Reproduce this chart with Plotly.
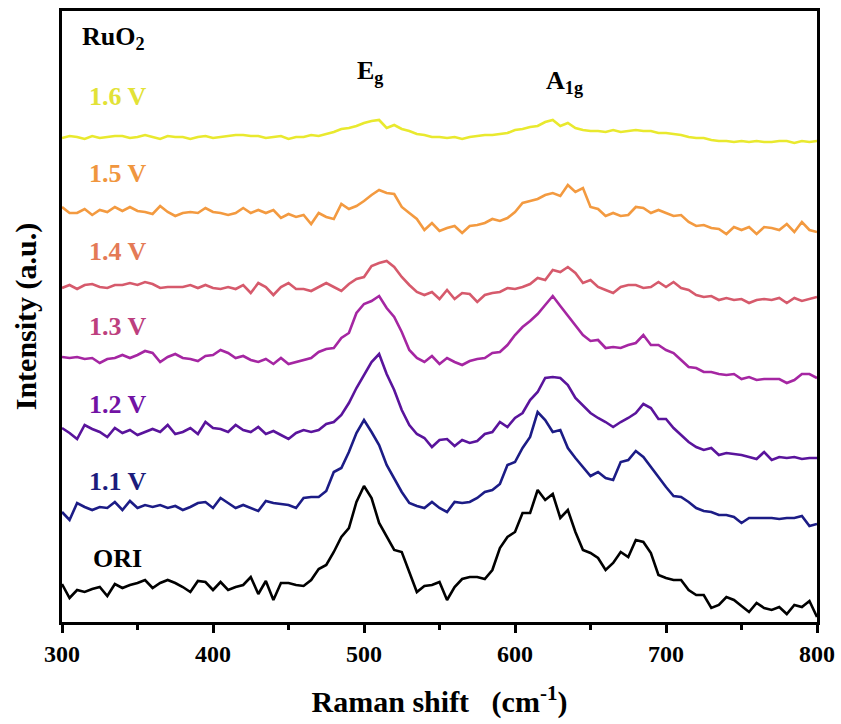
import plotly.graph_objects as go

# Raman shift grid (cm^-1), 5 cm^-1 spacing
raman_shift = list(range(300, 801, 5))

# Stacked spectra (a.u.), each already offset for display
ori = [38, 24, 32, 30, 33, 35, 26, 38, 34, 37,
       39, 42, 34, 39, 42, 39, 35, 30, 41, 40,
       32, 40, 32, 35, 37, 45, 28, 41, 22, 39,
       39, 37, 36, 42, 53, 57, 70, 85, 94, 120,
       136, 124, 99, 85, 72, 70, 50, 30, 36, 37,
       40, 22, 35, 43, 45, 45, 43, 52, 74, 85,
       90, 109, 109, 132, 122, 128, 104, 112, 90, 72,
       69, 64, 52, 59, 70, 65, 82, 80, 69, 47,
       44, 42, 42, 32, 27, 27, 14, 17, 25, 22,
       16, 10, 19, 14, 12, 15, 8, 17, 15, 21,
       5]

v11 = [110, 102, 119, 115, 112, 115, 114, 120, 112, 121,
       114, 117, 115, 117, 114, 116, 112, 115, 119, 120,
       114, 124, 119, 114, 117, 114, 111, 121, 119, 118,
       117, 114, 124, 125, 125, 131, 150, 154, 170, 189,
       202, 190, 177, 157, 144, 130, 119, 116, 114, 120,
       114, 110, 120, 119, 120, 124, 130, 132, 138, 157,
       160, 174, 185, 210, 202, 190, 192, 174, 164, 155,
       146, 150, 144, 142, 160, 162, 171, 165, 155, 144,
       135, 126, 125, 120, 114, 111, 110, 107, 107, 105,
       99, 104, 104, 104, 104, 103, 104, 104, 106, 96,
       98]

v12 = [194, 189, 183, 197, 193, 190, 185, 194, 189, 192,
       187, 190, 193, 190, 197, 188, 190, 194, 188, 200,
       194, 193, 190, 197, 192, 190, 195, 188, 191, 187,
       183, 189, 192, 190, 192, 198, 200, 207, 219, 234,
       247, 260, 268, 248, 232, 212, 197, 188, 184, 175,
       182, 183, 176, 182, 179, 181, 188, 190, 200, 195,
       204, 209, 222, 230, 244, 245, 244, 237, 224, 217,
       209, 204, 200, 195, 200, 204, 209, 218, 214, 203,
       203, 194, 187, 180, 175, 172, 174, 167, 169, 168,
       167, 165, 163, 170, 162, 165, 164, 165, 163, 164,
       164]

v13 = [265, 264, 265, 263, 264, 259, 263, 264, 267, 264,
       267, 271, 269, 260, 265, 268, 264, 263, 261, 266,
       267, 272, 269, 264, 266, 262, 260, 263, 258, 264,
       258, 260, 262, 264, 270, 273, 274, 284, 289, 309,
       318, 321, 326, 314, 305, 290, 272, 264, 260, 266,
       258, 264, 260, 257, 261, 263, 264, 269, 270, 277,
       287, 295, 301, 308, 317, 326, 316, 306, 297, 287,
       281, 282, 274, 275, 274, 277, 279, 287, 277, 277,
       272, 269, 262, 255, 254, 250, 250, 248, 247, 248,
       243, 245, 242, 243, 243, 243, 239, 242, 248, 248,
       244]

v14 = [334, 337, 333, 337, 338, 335, 334, 337, 337, 339,
       337, 340, 338, 334, 335, 335, 335, 337, 334, 337,
       334, 333, 335, 333, 337, 329, 339, 335, 327, 335,
       339, 333, 333, 331, 335, 339, 335, 331, 338, 343,
       345, 356, 359, 361, 355, 345, 337, 330, 327, 330,
       323, 332, 323, 329, 328, 320, 327, 329, 330, 334,
       333, 335, 338, 344, 342, 352, 350, 355, 349, 339,
       342, 335, 332, 329, 335, 337, 337, 334, 335, 340,
       335, 340, 334, 332, 327, 325, 326, 322, 324, 322,
       323, 319, 322, 323, 322, 324, 319, 324, 321, 323,
       325]

v15 = [415, 409, 409, 413, 407, 412, 410, 415, 411, 415,
       411, 410, 408, 416, 410, 406, 409, 410, 409, 414,
       410, 409, 407, 409, 414, 409, 412, 409, 412, 404,
       408, 405, 407, 398, 409, 405, 403, 418, 413, 416,
       421, 427, 432, 429, 428, 415, 409, 403, 392, 399,
       391, 394, 396, 389, 396, 397, 399, 403, 401, 404,
       410, 419, 421, 423, 427, 429, 426, 437, 430, 434,
       415, 413, 406, 409, 406, 407, 415, 414, 409, 412,
       409, 406, 407, 400, 396, 397, 394, 393, 388, 395,
       392, 395, 388, 395, 394, 392, 398, 390, 400, 392,
       390]

v16 = [484, 486, 485, 483, 486, 484, 485, 486, 486, 484,
       485, 487, 485, 483, 486, 485, 485, 483, 485, 486,
       484, 485, 486, 487, 487, 486, 486, 484, 485, 486,
       483, 485, 485, 487, 486, 488, 490, 493, 494, 496,
       499, 501, 502, 494, 497, 493, 491, 488, 487, 485,
       485, 484, 485, 483, 485, 486, 487, 487, 488, 489,
       492, 493, 495, 496, 500, 502, 496, 499, 494, 492,
       491, 491, 490, 492, 490, 491, 492, 491, 491, 489,
       489, 488, 487, 485, 484, 484, 482, 481, 481, 480,
       481, 480, 481, 480, 480, 481, 481, 479, 481, 480,
       481]

series = [
    ("ORI", ori, "#000000", "#000000", 64, 319.5),
    ("1.1 V", v11, "#1c1c86", "#1c1c7c", 141, 316.5),
    ("1.2 V", v12, "#5a149c", "#7212a4", 218, 316.5),
    ("1.3 V", v13, "#a526a2", "#bd3f7e", 296, 316.5),
    ("1.4 V", v14, "#d65a6c", "#e47a56", 371, 316.5),
    ("1.5 V", v15, "#f39a40", "#f0963e", 449, 316.5),
    ("1.6 V", v16, "#e9e92e", "#e2e236", 526, 316.5),
]

FONT = "Liberation Serif, Times New Roman, serif"

fig = go.Figure()
annotations = []
for name, vals, line_color, label_color, label_y, label_x in series:
    fig.add_trace(go.Scatter(
        x=raman_shift, y=vals, mode="lines", name=name,
        line=dict(color=line_color, width=2.6),
        showlegend=False,
    ))
    annotations.append(dict(
        x=label_x, y=label_y, xref="x", yref="y", text=name,
        showarrow=False, xanchor="left", yanchor="middle",
        font=dict(family=FONT, size=26, color=label_color, weight="bold"),
    ))

annotations += [
    dict(x=312, y=584, xref="x", yref="y", text="RuO<sub>2</sub>",
         showarrow=False, xanchor="left", yanchor="middle",
         font=dict(family=FONT, size=26, color="black", weight="bold")),
    dict(x=494, y=550, xref="x", yref="y", text="E<sub>g</sub>",
         showarrow=False, xanchor="left", yanchor="middle",
         font=dict(family=FONT, size=26, color="black", weight="bold")),
    dict(x=619, y=540, xref="x", yref="y", text="A<sub>1g</sub>",
         showarrow=False, xanchor="left", yanchor="middle",
         font=dict(family=FONT, size=26, color="black", weight="bold")),
]

fig.update_layout(
    width=841, height=724,
    margin=dict(l=62, r=24, t=11, b=102, autoexpand=False),
    paper_bgcolor="white", plot_bgcolor="white",
    annotations=annotations,
    font=dict(family=FONT, color="black"),
)

fig.update_xaxes(
    range=[300, 800], tickmode="array", tickvals=[300, 400, 500, 600, 700, 800],
    ticks="outside", ticklen=8, tickwidth=2.5, tickcolor="black",
    minor=dict(tickvals=[350, 450, 550, 650, 750], ticks="outside", ticklen=5,
               tickwidth=2.5, tickcolor="black"),
    showline=True, linewidth=3, linecolor="black", mirror=True,
    showgrid=False, zeroline=False, automargin=False,
    tickfont=dict(family=FONT, size=24, color="black", weight="bold"),
    title=dict(text="Raman shift\u00a0\u00a0\u00a0(cm<sup>-1</sup>)",
               font=dict(family=FONT, size=30, color="black", weight="bold"),
               standoff=26),
)
fig.update_yaxes(
    range=[0, 611], showticklabels=False, ticks="",
    showline=True, linewidth=3, linecolor="black", mirror=True,
    showgrid=False, zeroline=False, automargin=False,
    title=dict(text="Intensity (a.u.)",
               font=dict(family=FONT, size=30, color="black", weight="bold"),
               standoff=14),
)

fig.write_html("out.html")
